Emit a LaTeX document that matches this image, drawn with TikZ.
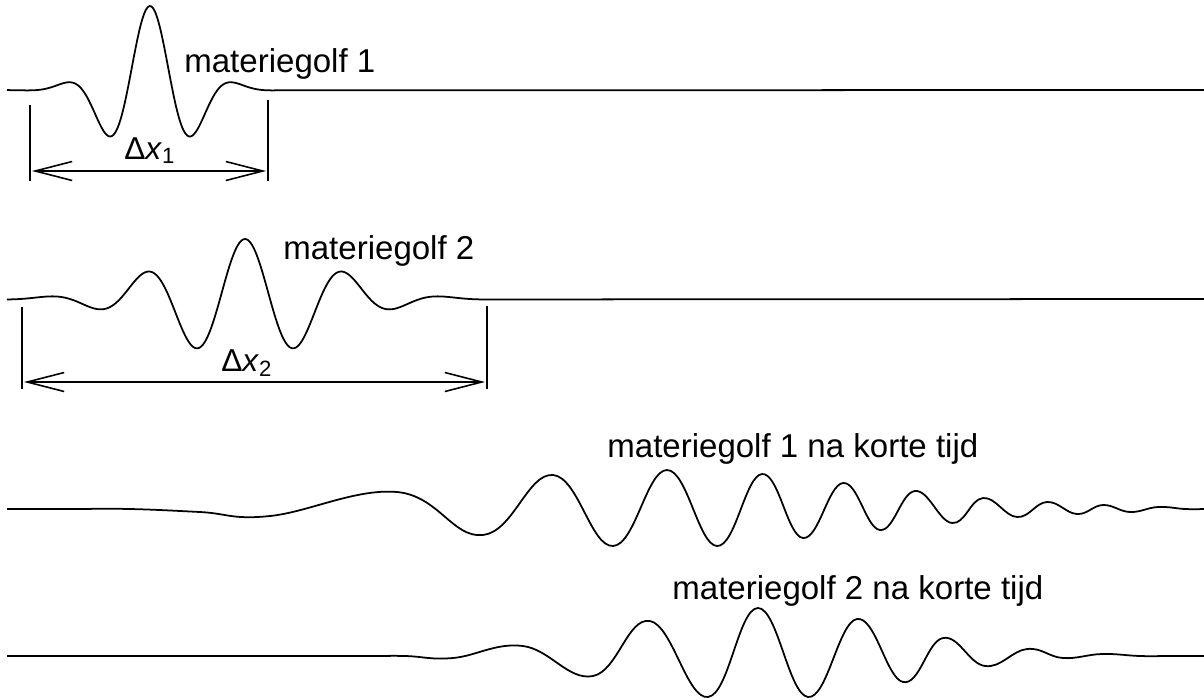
\documentclass[tikz,border=0pt]{standalone}
\usepackage{fontspec}
\setmainfont{Liberation Sans}
\usetikzlibrary{arrows.meta}
\tikzset{
	golf/.style={line width=1pt, line join=round},
	maat/.style={line width=0.9pt},
	maatpijl/.style={maat, {Straight Barb[length=7.4mm,width=3.8mm]}-{Straight Barb[length=7.4mm,width=3.8mm]}},
	tekst/.style={anchor=base west, inner sep=0pt, font=\fontsize{18.8pt}{22pt}\selectfont},
	delta/.style={anchor=base west, inner sep=0pt, font=\fontsize{18pt}{22pt}\selectfont}
}
\begin{document}
\begin{tikzpicture}[x=0.2mm, y=-0.2mm]
			\useasboundingbox (0,0) rectangle (1204,699);
			% materiegolf 1
			\draw[golf] plot[domain=7:280, samples=160, smooth] (\x, {90-84*exp(-((\x-150)/55)^2)*cos(4*(\x-150))}) -- (1204,90);
			\node[tekst] (golf1) at (184,72) {materiegolf 1};
			\coordinate (m1l) at (32,171);
			\coordinate (m1r) at (266,171);
			\draw[maat] (30,105) -- (30,181) (268,100) -- (268,181);
			\draw[maatpijl] (m1l) -- (m1r);
			\node[delta] (dx1) at (124,159) {Δ\textit{x}\textsubscript{1}};
			% materiegolf 2
			\draw[golf] plot[domain=7:490, samples=240, smooth] (\x, {299-60*exp(-((\x-245)/111)^2)*cos(3.6*(\x-245))}) -- (1204,299);
			\node[tekst] (golf2) at (283,259) {materiegolf 2};
			\coordinate (m2l) at (24,382);
			\coordinate (m2r) at (485,382);
			\draw[maat] (22,307) -- (22,389) (487,306) -- (487,389);
			\draw[maatpijl] (m2l) -- (m2r);
			\node[delta] (dx2) at (221,371) {Δ\textit{x}\textsubscript{2}};
			% na korte tijd
			\draw[golf] plot[smooth, tension=.7] coordinates
				{(7,509) (70,509) (130,509) (200,512) (270,516) (397,492) (483,535) (553,475) (613,546) (667,470) (717,546) (762,474) (803,538) (843,483) (880,530) (915,491) (952,523) (983,498) (1017,517) (1047,502) (1077,514) (1103,505) (1130,512) (1158,507) (1185,509) (1204,509)};
			\node[tekst] (golf1na) at (607,457) {materiegolf 1 na korte tijd};
			\draw[golf] plot[smooth, tension=.7] coordinates
				{(7,656) (200,656) (360,656) (405,656) (453,658) (523,646) (593,676) (650,621) (708,697) (758,608) (808,697) (857,619) (903,682) (943,638) (985,666) (1027,649) (1063,658) (1102,654) (1140,656) (1170,656) (1204,656)};
			\node[tekst] (golf2na) at (672,599) {materiegolf 2 na korte tijd};
\end{tikzpicture}
\end{document}
